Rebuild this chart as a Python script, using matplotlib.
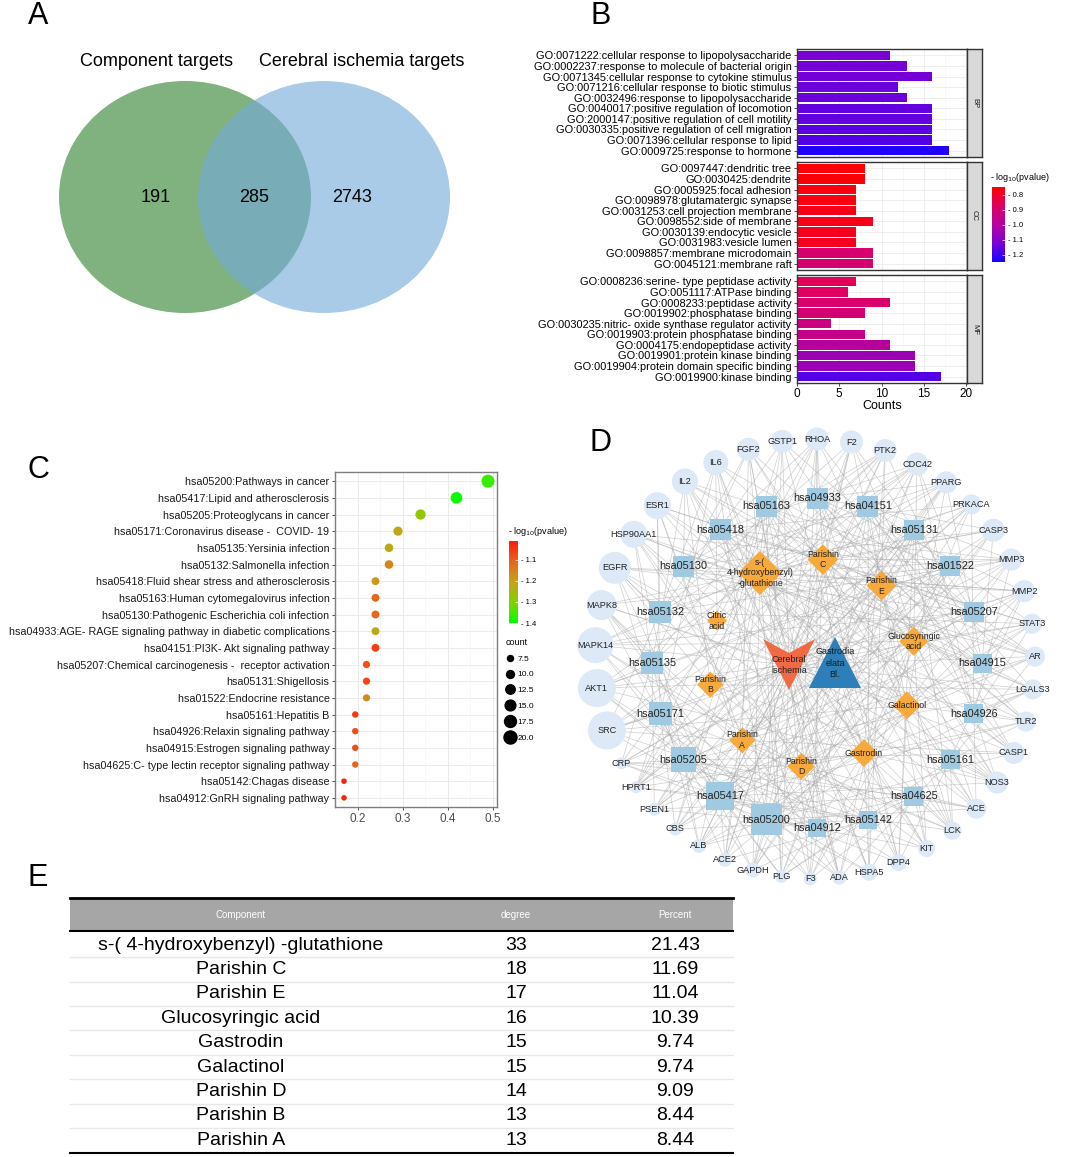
import numpy as np
import matplotlib
matplotlib.use('Agg')
import matplotlib.pyplot as plt
from matplotlib.patches import Ellipse, Circle, Rectangle, Polygon
from matplotlib.collections import LineCollection
from matplotlib.colors import LinearSegmentedColormap, Normalize
from matplotlib.cm import ScalarMappable
from matplotlib.lines import Line2D

plt.rcParams['font.family'] = ['Liberation Sans', 'DejaVu Sans']

W, H = 1065, 1157

# ---------------- data ----------------
venn_sets = ['Component targets', 'Cerebral ischemia targets']
venn_counts = [191, 285, 2743]  # only component, shared, only ischemia

bp_terms = ['GO:0071222:cellular response to lipopolysaccharide',
            'GO:0002237:response to molecule of bacterial origin',
            'GO:0071345:cellular response to cytokine stimulus',
            'GO:0071216:cellular response to biotic stimulus',
            'GO:0032496:response to lipopolysaccharide',
            'GO:0040017:positive regulation of locomotion',
            'GO:2000147:positive regulation of cell motility',
            'GO:0030335:positive regulation of cell migration',
            'GO:0071396:cellular response to lipid',
            'GO:0009725:response to hormone']
bp_counts = [11, 13, 16, 12, 13, 16, 16, 16, 16, 18]
bp_logp = [-1.12, -1.13, -1.13, -1.14, -1.14, -1.15, -1.15, -1.16, -1.17, -1.23]

cc_terms = ['GO:0097447:dendritic tree', 'GO:0030425:dendrite',
            'GO:0005925:focal adhesion', 'GO:0098978:glutamatergic synapse',
            'GO:0031253:cell projection membrane', 'GO:0098552:side of membrane',
            'GO:0030139:endocytic vesicle', 'GO:0031983:vesicle lumen',
            'GO:0098857:membrane microdomain', 'GO:0045121:membrane raft']
cc_counts = [8, 8, 7, 7, 7, 9, 7, 7, 9, 9]
cc_logp = [-0.76, -0.76, -0.77, -0.77, -0.78, -0.78, -0.79, -0.79, -0.90, -0.90]

mf_terms = ['GO:0008236:serine- type peptidase activity',
            'GO:0051117:ATPase binding',
            'GO:0008233:peptidase activity',
            'GO:0019902:phosphatase binding',
            'GO:0030235:nitric- oxide synthase regulator activity',
            'GO:0019903:protein phosphatase binding',
            'GO:0004175:endopeptidase activity',
            'GO:0019901:protein kinase binding',
            'GO:0019904:protein domain specific binding',
            'GO:0019900:kinase binding']
mf_counts = [7, 6, 11, 8, 4, 8, 11, 14, 14, 17]
mf_logp = [-0.86, -0.87, -0.89, -0.91, -0.93, -0.95, -0.99, -1.05, -1.05, -1.17]

kegg_terms = ['hsa05200:Pathways in cancer',
              'hsa05417:Lipid and atherosclerosis',
              'hsa05205:Proteoglycans in cancer',
              'hsa05171:Coronavirus disease -  COVID- 19',
              'hsa05135:Yersinia infection',
              'hsa05132:Salmonella infection',
              'hsa05418:Fluid shear stress and atherosclerosis',
              'hsa05163:Human cytomegalovirus infection',
              'hsa05130:Pathogenic Escherichia coli infection',
              'hsa04933:AGE- RAGE signaling pathway in diabetic complications',
              'hsa04151:PI3K- Akt signaling pathway',
              'hsa05207:Chemical carcinogenesis -  receptor activation',
              'hsa05131:Shigellosis',
              'hsa01522:Endocrine resistance',
              'hsa05161:Hepatitis B',
              'hsa04926:Relaxin signaling pathway',
              'hsa04915:Estrogen signaling pathway',
              'hsa04625:C- type lectin receptor signaling pathway',
              'hsa05142:Chagas disease',
              'hsa04912:GnRH signaling pathway']
kegg_ratio = [0.49, 0.42, 0.34, 0.29, 0.27, 0.27, 0.24, 0.24, 0.24, 0.24,
              0.24, 0.22, 0.22, 0.22, 0.195, 0.195, 0.195, 0.195, 0.17, 0.17]
kegg_count = [20, 17, 14, 12, 11, 11, 10, 10, 10, 10, 10, 9, 9, 9, 8, 8, 8, 8, 7, 7]
kegg_logp = [-1.36, -1.39, -1.28, -1.21, -1.22, -1.16, -1.19, -1.11, -1.11, -1.22,
             -1.06, -1.08, -1.07, -1.17, -1.05, -1.08, -1.08, -1.11, -1.02, -1.02]

# network (clockwise from the top)
genes = ['RHOA', 'F2', 'PTK2', 'CDC42', 'PPARG', 'PRKACA', 'CASP3', 'MMP3', 'MMP2',
         'STAT3', 'AR', 'LGALS3', 'TLR2', 'CASP1', 'NOS3', 'ACE', 'LCK', 'KIT', 'DPP4',
         'HSPA5', 'ADA', 'F3', 'PLG', 'GAPDH', 'ACE2', 'ALB', 'CBS', 'PSEN1', 'HPRT1',
         'CRP', 'SRC', 'AKT1', 'MAPK14', 'MAPK8', 'EGFR', 'HSP90AA1', 'ESR1', 'IL2',
         'IL6', 'FGF2', 'GSTP1']
gene_size = [23, 23, 23, 23, 22, 20, 23, 22, 22, 20, 20, 20, 20, 22, 22, 20, 18, 17,
             17, 17, 14, 13, 13, 15, 14, 14, 13, 13, 12, 12, 38, 38, 36, 30, 32, 27,
             27, 26, 25, 23, 23]
pathway_ring = ['hsa04933', 'hsa04151', 'hsa05131', 'hsa01522', 'hsa05207', 'hsa04915',
                'hsa04926', 'hsa05161', 'hsa04625', 'hsa05142', 'hsa04912', 'hsa05200',
                'hsa05417', 'hsa05205', 'hsa05171', 'hsa05135', 'hsa05132', 'hsa05130',
                'hsa05418', 'hsa05163']
compounds = ['Parishin\nC', 'Parishin\nE', 'Glucosyringic\nacid', 'Galactinol',
             'Gastrodin', 'Parishin\nD', 'Parishin\nA', 'Parishin\nB', 'Citric\nacid',
             's-(\n4-hydroxybenzyl)\n-glutathione']
compound_degree = [18, 17, 16, 15, 15, 14, 13, 13, 6, 33]

table_names = ['s-( 4-hydroxybenzyl) -glutathione', 'Parishin C', 'Parishin E',
               'Glucosyringic acid', 'Gastrodin', 'Galactinol', 'Parishin D',
               'Parishin B', 'Parishin A']
table_degree = [33, 18, 17, 16, 15, 15, 14, 13, 13]
table_percent = ['21.43', '11.69', '11.04', '10.39', '9.74', '9.74', '9.09', '8.44', '8.44']


def px_axes(fig, l, t, r, b):
    return fig.add_axes([l / W, 1 - b / H, (r - l) / W, (b - t) / H])


def fmt_neg(v):
    return '- %.1f' % abs(v)


fig = plt.figure(figsize=(W / 100, H / 100), dpi=100)
ax0 = fig.add_axes([0, 0, 1, 1])
ax0.set_xlim(0, W)
ax0.set_ylim(H, 0)
ax0.axis('off')

for letter, (lx, ly) in zip('ABCDE', [(38, 16), (601, 16), (38, 470), (601, 443), (38, 878)]):
    ax0.text(lx, ly, letter, fontsize=22, ha='center', va='center')

# ---------------- A: venn ----------------
ax0.add_patch(Ellipse((185, 197), 252, 232, color='#7fb27f', lw=0))
ax0.add_patch(Ellipse((324, 197), 252, 232, color='#75abdb', alpha=0.62, lw=0))
ax0.text(156, 62, venn_sets[0], fontsize=13, ha='center', va='center')
ax0.text(362, 62, venn_sets[1], fontsize=13, ha='center', va='center')
for x, v in zip([156, 254, 352], venn_counts):
    ax0.text(x, 198, str(v), fontsize=13, ha='center', va='center')

# ---------------- B: GO bars ----------------
cmap_b = LinearSegmentedColormap.from_list(
    'gob', [(0, '#1400ff'), (0.25, '#7a00d5'), (0.5, '#b4009f'), (0.75, '#df0063'), (1, '#ff0000')])
norm_b = Normalize(-1.247, -0.75)
facets = [('BP', bp_terms, bp_counts, bp_logp, 49, 157),
          ('CC', cc_terms, cc_counts, cc_logp, 162, 270),
          ('MF', mf_terms, mf_counts, mf_logp, 275, 383)]
for k, (name, terms, counts, logp, top, bot) in enumerate(facets):
    ax = px_axes(fig, 797, top, 967, bot)
    y = np.arange(len(terms))
    ax.barh(y, counts, height=0.9, color=cmap_b(norm_b(np.array(logp))), zorder=2)
    ax.set_xlim(0, 20.1)
    ax.set_ylim(len(terms) - 0.4, -0.6)
    ax.set_yticks(y)
    ax.set_yticklabels(terms, fontsize=7.9)
    ax.set_xticks([0, 5, 10, 15, 20])
    ax.set_xticks([2.5, 7.5, 12.5, 17.5], minor=True)
    ax.grid(True, which='major', color='#ebebeb', lw=0.6, zorder=0)
    ax.grid(True, which='minor', axis='x', color='#f3f3f3', lw=0.4, zorder=0)
    ax.set_axisbelow(True)
    ax.tick_params(axis='y', length=2.5, width=0.6, color='#333333', pad=1.5)
    ax.tick_params(axis='x', which='minor', length=0)
    if k < 2:
        ax.tick_params(axis='x', length=0, labelbottom=False)
    else:
        ax.tick_params(axis='x', length=2.5, width=0.6, color='#333333', labelsize=8.5, pad=1)
        ax.set_xlabel('Counts', fontsize=9, labelpad=0)
    for s in ax.spines.values():
        s.set_color('#333333')
        s.set_linewidth(1.0)
    sx = px_axes(fig, 967, top, 982, bot)
    sx.set_facecolor('#d9d9d9')
    sx.set_xticks([])
    sx.set_yticks([])
    for s in sx.spines.values():
        s.set_color('#333333')
        s.set_linewidth(1.0)
    sx.text(0.5, 0.5, name, rotation=-90, fontsize=5.5, ha='center', va='center',
            color='#1a1a1a', transform=sx.transAxes)

cax_b = px_axes(fig, 992, 187, 1005, 262)
cb = fig.colorbar(ScalarMappable(norm=norm_b, cmap=cmap_b), cax=cax_b)
cb.outline.set_visible(False)
tb = [-0.8, -0.9, -1.0, -1.1, -1.2]
cb.set_ticks(tb)
cb.set_ticklabels([fmt_neg(t) for t in tb])
cax_b.tick_params(length=2, width=0.5, color='white', direction='in', labelsize=5.5, pad=2)
ax0.text(990, 177, '- log$_{10}$(pvalue)', fontsize=6.5, ha='left', va='center')

# ---------------- C: KEGG dots ----------------
cmap_c = LinearSegmentedColormap.from_list(
    'keggc', [(0, '#00ff00'), (0.25, '#84d000'), (0.5, '#c4a41a'), (0.75, '#e8641c'), (1, '#ff1a0a')])
norm_c = Normalize(-1.40, -1.01)
axc = px_axes(fig, 335, 472, 497, 807)
yk = np.arange(len(kegg_terms))
sizes = np.interp(kegg_count, [7, 20], [16, 88])
axc.scatter(kegg_ratio, yk, s=sizes, c=kegg_logp, cmap=cmap_c, norm=norm_c,
            linewidths=0, zorder=3)
axc.set_xlim(0.153, 0.510)
axc.set_ylim(len(kegg_terms) - 0.45, -0.55)
axc.set_yticks(yk)
axc.set_yticklabels(kegg_terms, fontsize=7.75, color='#1a1a1a')
axc.set_xticks([0.2, 0.3, 0.4, 0.5])
axc.set_xticklabels(['0.2', '0.3', '0.4', '0.5'])
axc.set_xticks([0.15, 0.25, 0.35, 0.45], minor=True)
axc.grid(True, which='major', color='#ebebeb', lw=0.7, zorder=0)
axc.grid(True, which='minor', axis='x', color='#f3f3f3', lw=0.4, zorder=0)
axc.set_axisbelow(True)
axc.tick_params(axis='both', length=2.5, width=0.6, color='#333333')
axc.tick_params(axis='x', labelsize=8.5, labelcolor='#4d4d4d', pad=1.5)
axc.tick_params(axis='y', pad=1.5)
axc.tick_params(axis='x', which='minor', length=0)
for s in axc.spines.values():
    s.set_color('#7f7f7f')
    s.set_linewidth(1.0)

cax_c = px_axes(fig, 509, 541, 518, 623)
cc = fig.colorbar(ScalarMappable(norm=norm_c, cmap=cmap_c), cax=cax_c)
cc.outline.set_visible(False)
tc = [-1.1, -1.2, -1.3, -1.4]
cc.set_ticks(tc)
cc.set_ticklabels([fmt_neg(t) for t in tc])
cax_c.tick_params(length=2, width=0.5, color='white', direction='in', labelsize=5.5, pad=2)
ax0.text(508, 532, '- log$_{10}$(pvalue)', fontsize=6.5, ha='left', va='center')

leg_counts = [7.5, 10.0, 12.5, 15.0, 17.5, 20.0]
handles = [Line2D([], [], ls='', marker='o', color='black',
                  markersize=np.sqrt(np.interp(v, [7, 20], [16, 88])))
           for v in leg_counts]
leg = axc.legend(handles, ['%.1f' % v for v in leg_counts], title='count',
                 loc='upper left', bbox_to_anchor=(506 / W, 1 - 638 / H),
                 bbox_transform=fig.transFigure, frameon=False, fontsize=6,
                 title_fontsize=6.5, labelspacing=0.95, handlelength=1.0,
                 handletextpad=0.4, borderaxespad=0, borderpad=0, alignment='left')

# ---------------- D: network ----------------
# gene ring, spacing grows with node size
d = np.array(gene_size, float)
gaps = 21.7 + 0.607 * (d + np.roll(d, -1)) / 2
ang = np.concatenate([[0], np.cumsum(gaps[:-1])]) / gaps.sum() * 360
th = np.deg2rad(89.5 - ang)
gx = 815 + 220 * np.cos(th)
gy = 659 - 220 * np.sin(th)

th_p = np.deg2rad(90 - 18 * np.arange(len(pathway_ring)))
px_ = 817 + 165 * np.cos(th_p)
py_ = 663 - 165 * np.sin(th_p)
count_by_id = {t.split(':')[0]: c for t, c in zip(kegg_terms, kegg_count)}
p_counts = [count_by_id[p] for p in pathway_ring]

th_c = np.deg2rad(84 - 36 * np.arange(len(compounds)))
cx_ = 812 + 104 * np.cos(th_c)
cy_ = 663 - 104 * np.sin(th_c)

isc = (789, 665)
gas = (835, 664)

segs = []
for i in range(len(genes)):
    segs.append([isc, (gx[i], gy[i])])
for k in range(len(compounds)):
    segs.append([gas, (cx_[k], cy_[k])])
    for j in range(compound_degree[k] - 1):
        gi = (k * 4 + 3 * j) % len(genes)
        segs.append([(cx_[k], cy_[k]), (gx[gi], gy[gi])])
for p in range(len(pathway_ring)):
    for j in range(p_counts[p]):
        gi = (p * 7 + 2 * j) % len(genes)
        segs.append([(px_[p], py_[p]), (gx[gi], gy[gi])])
ax0.add_collection(LineCollection(segs, colors='#a8a8a8', linewidths=0.5, alpha=0.55, zorder=1))

for i, g in enumerate(genes):
    ax0.add_patch(Circle((gx[i], gy[i]), gene_size[i] / 2, color='#dde9f6', lw=0, zorder=2))
    ax0.text(gx[i], gy[i], g, fontsize=6.6, ha='center', va='center', color='#222222', zorder=5)

for p, pid in enumerate(pathway_ring):
    side = np.interp(p_counts[p], [7, 20], [18, 31])
    ax0.add_patch(Rectangle((px_[p] - side / 2, py_[p] - side / 2), side, side,
                            color='#9fcae1', lw=0, zorder=3))
    ax0.text(px_[p], py_[p], pid, fontsize=7.8, ha='center', va='center', color='#222222', zorder=5)

for k, c in enumerate(compounds):
    h = np.interp(compound_degree[k], [6, 33], [10, 22])
    x, y = cx_[k], cy_[k]
    ax0.add_patch(Polygon([(x, y - h), (x + h, y), (x, y + h), (x - h, y)],
                          color='#f7a93b', lw=0, zorder=3))
    ax0.text(x, y, c, fontsize=6.3, ha='center', va='center', color='#222222',
             zorder=5, linespacing=1.25)

vx, vy = isc
ax0.add_patch(Polygon([(vx - 26, vy - 26), (vx, vy - 12), (vx + 26, vy - 26), (vx, vy + 25)],
                      color='#f26a45', lw=0, zorder=4))
ax0.text(vx, vy, 'Cerebral\nischemia', fontsize=6.5, ha='center', va='center',
         color='#222222', zorder=5, linespacing=1.3)
tx, ty = gas
ax0.add_patch(Polygon([(tx, ty - 27), (tx + 26, ty + 24), (tx - 26, ty + 24)],
                      color='#2c7fb8', lw=0, zorder=4))
ax0.text(tx, ty - 1, 'Gastrodia\nelata\nBl.', fontsize=6.5, ha='center', va='center',
         color='#1a1a1a', zorder=5, linespacing=1.3)

# ---------------- E: table ----------------
tl, tr = 70, 733
col_x = [241, 516, 675]
ax0.add_patch(Rectangle((tl, 898), tr - tl, 33, color='#a6a6a6', lw=0))
ax0.plot([tl, tr], [898, 898], color='black', lw=2)
ax0.plot([tl, tr], [931, 931], color='black', lw=1.5)
ax0.plot([tl, tr], [1153, 1153], color='black', lw=1.5)
for x, lab in zip(col_x, ['Component', 'degree', 'Percent']):
    ax0.text(x, 915, lab, fontsize=7, ha='center', va='center', color='white')
row_h = 24.4
for i in range(len(table_names)):
    yy = 945 + i * row_h
    if i > 0:
        ax0.plot([tl, tr], [yy - row_h / 2, yy - row_h / 2], color='#e8e8e8', lw=1)
    for x, val in zip(col_x, [table_names[i], str(table_degree[i]), table_percent[i]]):
        ax0.text(x, yy, val, fontsize=14, ha='center', va='center')

fig.savefig('out.png', dpi=100)
